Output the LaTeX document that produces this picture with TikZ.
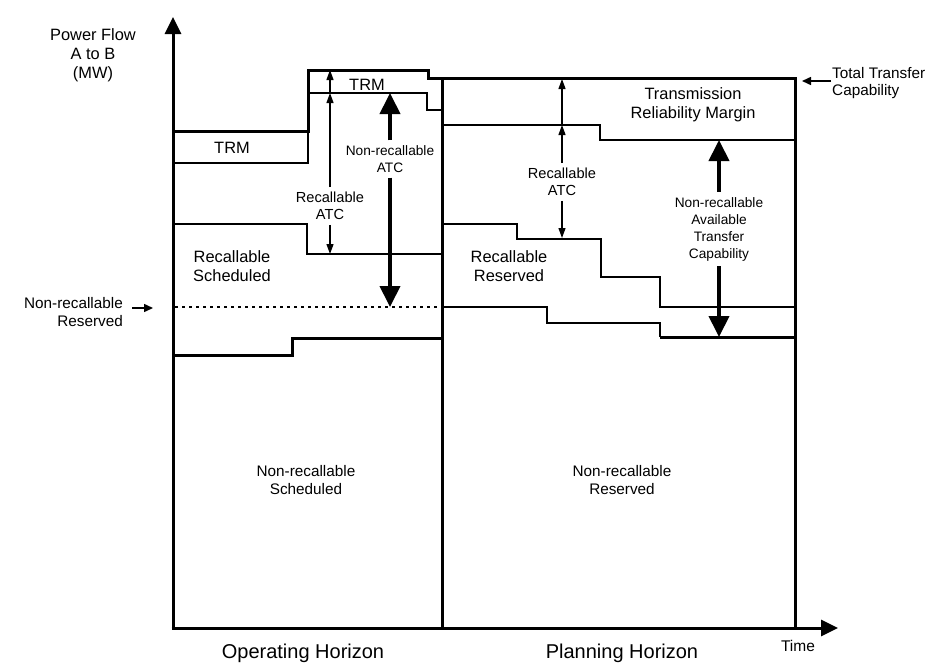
\documentclass[tikz,border=0pt]{standalone}
\usepackage{fontspec}
\setmainfont{Liberation Sans}
\usetikzlibrary{arrows.meta}
\newcommand\fsBig{\fontsize{16.4}{19}\selectfont}
\newcommand\fsMid{\fontsize{15.3}{17.5}\selectfont}
\newcommand\fsSmall{\fontsize{14.6}{16.5}\selectfont}
\newcommand\fsTiny{\fontsize{13.7}{17}\selectfont}
\newcommand\fsHor{\fontsize{20}{24}\selectfont}
\newcommand\fsTime{\fontsize{15.5}{18}\selectfont}
\begin{document}
\begin{tikzpicture}[x=1pt,y=-1pt,
  heavyln/.style={line width=3pt, line join=miter},
  medln/.style={line width=2pt},
  thinln/.style={line width=1.3pt},
  dotln/.style={line width=1.5pt, dash pattern=on 3pt off 4pt},
  axisarr/.style={heavyln, -{Triangle[width=16pt,length=17pt]}},
  smallarr/.style={line width=1.2pt, -{Triangle[width=7pt,length=10pt]}},
  bigarr/.style={line width=4pt, -{Triangle[width=20pt,length=21pt]}},
  ptr/.style={line width=1.5pt, -{Triangle[width=8pt,length=9pt]}},
  lbl/.style={inner sep=1pt, align=center},
  gaplbl/.style={inner xsep=1pt, inner ysep=5pt, align=center},
  fbig/.style={font=\fsBig},
  fmid/.style={font=\fsMid},
  fsmall/.style={font=\fsSmall},
  ftiny/.style={font=\fsTiny},
  fhor/.style={font=\fsHor},
  ftime/.style={font=\fsTime}
]
\useasboundingbox (0,0) rectangle (937,664);

% axes
\coordinate (O) at (173,628);
\coordinate (ytop) at (173,17);
\coordinate (xend) at (838,628);
\draw[axisarr] (173,629.5) -- (ytop);
\draw[axisarr] (171.5,628) -- (xend);

% outer boxes
\draw[heavyln] (173,131) -- (308,131) -- (308,70) -- (428,70) -- (428,78) -- (795,78) -- (795,628);
\draw[heavyln] (442,78) -- (442,628);

% operating horizon layers
\draw[thinln] (173,163) -- (308,163) -- (308,131);
\draw[thinln] (308,93) -- (427,93) -- (427,110) -- (442,110);
\draw[thinln] (173,224) -- (307,224) -- (307,254) -- (442,254);
\draw[dotln] (175,307) -- (442,307);
\draw[heavyln] (173,355) -- (292,355) -- (292,338) -- (442,338);

% planning horizon layers
\draw[thinln] (442,125) -- (600,125) -- (600,140) -- (795,140);
\draw[thinln] (442,224) -- (517,224) -- (517,239) -- (601,239) -- (601,277) -- (660,277) -- (660,307) -- (795,307);
\draw[medln] (442,307) -- (547,307) -- (547,323) -- (660,323) -- (660,337);
\draw[heavyln] (660,337) -- (795,337);

% labels in boxes
\node[lbl, fbig] (trmtop) at (367,85) {TRM};
\node[lbl, fbig] (trmleft) at (232,148) {TRM};
\node[lbl, fbig] (recsch) at (232,266) {Recallable\\Scheduled};
\node[lbl, fmid] (nrsch) at (306,480) {Non-recallable\\Scheduled};
\node[lbl, fmid] (nrres) at (622,480) {Non-recallable\\Reserved};
\node[lbl, fbig] (tmargin) at (693,105) {Transmission\\Reliability Margin};
\node[lbl, fbig] (recres) at (509,266) {Recallable\\Reserved};

% left recallable ATC arrow
\coordinate (ratcLtop) at (330,93);
\coordinate (ratcLbot) at (330,254);
\coordinate (trmLtop) at (330,70);
\node[gaplbl, fsmall] (ratcL) at (330,206) {Recallable\\ATC};
\draw[smallarr] (ratcL.north) -- (ratcLtop);
\draw[smallarr] (ratcL.south) -- (ratcLbot);
\draw[smallarr] (ratcLtop) -- (trmLtop);

% left non-recallable ATC arrow
\coordinate (nratcTop) at (390,93);
\coordinate (nratcBot) at (390,307);
\node[gaplbl, ftiny] (nratc) at (390,159) {Non-recallable\\ATC};
\draw[bigarr] (nratc.north) -- (nratcTop);
\draw[bigarr] (nratc.south) -- (nratcBot);

% right recallable ATC arrow
\coordinate (ratcRtop) at (562,125);
\coordinate (ratcRbot) at (562,238);
\coordinate (trmRtop) at (562,79);
\node[gaplbl, fsmall] (ratcR) at (562,182) {Recallable\\ATC};
\draw[smallarr] (ratcR.north) -- (ratcRtop);
\draw[smallarr] (ratcR.south) -- (ratcRbot);
\draw[smallarr] (ratcRtop) -- (trmRtop);

% right non-recallable ATC arrow
\coordinate (nratcRTop) at (719,140);
\coordinate (nratcRBot) at (719,337);
\node[gaplbl, ftiny] (nravail) at (719,229) {Non-recallable\\Available\\Transfer\\Capability};
\draw[bigarr] (nravail.north) -- (nratcRTop);
\draw[bigarr] (nravail.south) -- (nratcRBot);

% axis labels
\node[lbl, fbig] (ylabel) at (93,55) {Power Flow\\A to B\\(MW)};
\node[lbl, fmid, align=right, anchor=east] (nrresL) at (124,312) {Non-recallable\\Reserved};
\coordinate (nrresTip) at (153,308);
\draw[ptr] (nrresL.east |- nrresTip) ++(8,0) -- (nrresTip);
\node[lbl, fmid, align=left, anchor=west] (ttc) at (831,83) {Total Transfer\\Capability};
\coordinate (ttcTip) at (802,81);
\draw[ptr] (ttc.west |- ttcTip) -- (ttcTip);

\node[lbl, fhor] (ophor) at (303,653) {Operating Horizon};
\node[lbl, fhor] (plhor) at (622,653) {Planning Horizon};
\node[lbl, ftime] (time) at (798,646) {Time};
\end{tikzpicture}
\end{document}
